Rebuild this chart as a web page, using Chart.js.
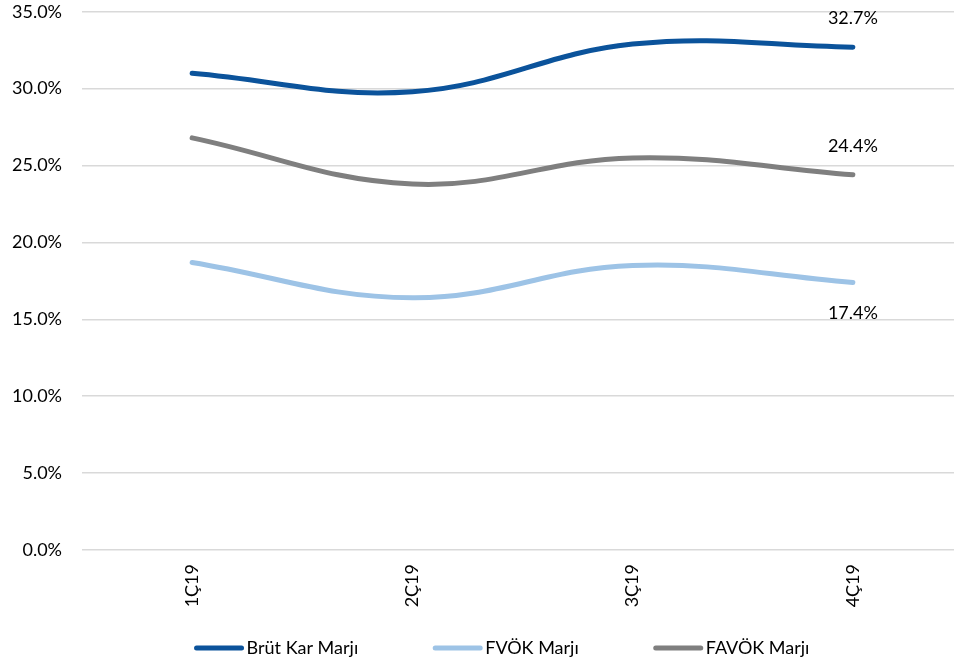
<!DOCTYPE html>
<html>
<head>
<meta charset="utf-8">
<script src="https://cdn.jsdelivr.net/npm/chart.js@4"></script>
<style>
  html, body { margin: 0; padding: 0; background: #fff; overflow: hidden; }
  #wrap { width: 972px; height: 684px; margin-top: -19px; }
</style>
</head>
<body>
<div id="wrap"><canvas id="marginChart" width="972" height="684"></canvas></div>
<script>
/* ---------------------------
   DATA
---------------------------*/
const quarters = ['1Ç19', '2Ç19', '3Ç19', '4Ç19'];
const brutKarMarji = [31.0, 29.8, 32.9, 32.7];
const fvokMarji = [18.7, 16.4, 18.5, 17.4];
const favokMarji = [26.8, 23.8, 25.5, 24.4];
const yTicks = [0, 5, 10, 15, 20, 25, 30, 35];

const FONT = 'Lato, "Open Sans", sans-serif';
const FONT_SIZE = 18;

/* ---------------------------
   PLUGINS
---------------------------*/
// value label next to the last point of each series
const lastLabelPlugin = {
    id: 'lastLabel',
    afterDatasetsDraw(chart) {
        const ctx = chart.ctx;
        ctx.save();
        ctx.font = FONT_SIZE + 'px ' + FONT;
        ctx.fillStyle = '#000';
        ctx.textAlign = 'center';
        ctx.textBaseline = 'middle';
        chart.data.datasets.forEach((ds, i) => {
            const meta = chart.getDatasetMeta(i);
            const last = meta.data[meta.data.length - 1];
            const v = ds.data[ds.data.length - 1];
            const dy = ds.labelBelow ? 31 : -29;
            ctx.fillText(v.toFixed(1) + '%', last.x, last.y + dy);
        });
        ctx.restore();
    }
};

// bottom legend with long rounded line markers
const lineLegendPlugin = {
    id: 'lineLegend',
    afterDraw(chart) {
        const ctx = chart.ctx;
        const y = chart.height - 17;
        const lineLen = 48, gap = 4, spacing = 75;
        ctx.save();
        ctx.font = FONT_SIZE + 'px ' + FONT;
        ctx.textBaseline = 'middle';
        const items = chart.data.datasets.map(ds => ({
            text: ds.label, color: ds.borderColor,
            w: lineLen + gap + ctx.measureText(ds.label).width
        }));
        const total = items.reduce((s, it) => s + it.w, 0) + spacing * (items.length - 1);
        let x = 502 - total / 2;
        items.forEach(it => {
            ctx.strokeStyle = it.color;
            ctx.lineWidth = 5;
            ctx.lineCap = 'round';
            ctx.beginPath();
            ctx.moveTo(x + 2, y);
            ctx.lineTo(x + lineLen - 1, y);
            ctx.stroke();
            ctx.fillStyle = '#000';
            ctx.fillText(it.text, x + lineLen + gap, y);
            x += it.w + spacing;
        });
        ctx.restore();
    }
};

/* ---------------------------
   CHART
---------------------------*/
function lineSet(label, data, color, labelBelow) {
    return {
        label: label,
        data: data,
        borderColor: color,
        backgroundColor: color,
        borderWidth: 5,
        borderCapStyle: 'round',
        pointRadius: 0,
        pointHoverRadius: 0,
        tension: 0.4,
        fill: false,
        labelBelow: labelBelow
    };
}

new Chart(document.getElementById('marginChart'), {
    type: 'line',
    data: {
        labels: quarters,
        datasets: [
            lineSet('Brüt Kar Marjı', brutKarMarji, '#0B539B', false),
            lineSet('FVÖK Marjı', fvokMarji, '#9DC3E6', true),
            lineSet('FAVÖK Marjı', favokMarji, '#7F7F7F', false)
        ]
    },
    options: {
        responsive: false,
        animation: false,
        layout: { padding: { top: 0, right: 9, bottom: 0, left: 0 } },
        plugins: {
            legend: { display: false },
            tooltip: { enabled: false }
        },
        scales: {
            x: {
                offset: true,
                grid: { display: false, drawTicks: false },
                border: { display: false },
                ticks: {
                    minRotation: 90,
                    maxRotation: 90,
                    padding: 14,
                    color: '#000',
                    font: { family: FONT, size: FONT_SIZE }
                },
                afterFit(scale) { scale.height = 115; }
            },
            y: {
                min: 0,
                max: 35,
                afterBuildTicks(scale) { scale.ticks = yTicks.map(v => ({ value: v })); },
                grid: { color: '#D9D9D9', lineWidth: 1.5, drawTicks: false },
                border: { display: false },
                ticks: {
                    padding: 20,
                    color: '#000',
                    font: { family: FONT, size: FONT_SIZE },
                    callback: v => v.toFixed(1) + '%'
                },
                afterFit(scale) { scale.width = 82; }
            }
        }
    },
    plugins: [lastLabelPlugin, lineLegendPlugin]
});
</script>
</body>
</html>
